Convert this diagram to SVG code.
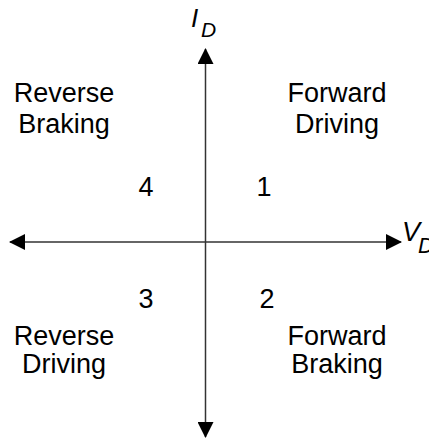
<svg xmlns="http://www.w3.org/2000/svg" width="429" height="441" viewBox="0 0 429 441">
<style>
.lbl{font-family:"Liberation Sans",Arial,sans-serif;font-size:27px;fill:#000;text-anchor:middle}
.ax{font-family:"Liberation Sans",Arial,sans-serif;font-style:italic;fill:#000}
.axis{stroke:#333;stroke-width:1.5;fill:none}
</style>
<defs>
<marker id="arr" viewBox="0 0 16 16" refX="15" refY="8" markerWidth="16" markerHeight="16" markerUnits="userSpaceOnUse" orient="auto">
<path d="M0,0 L16,8 L0,16 Z" fill="#000"/>
</marker>
</defs>
<rect width="429" height="441" fill="#fff"/>
<g id="connectors">
<line class="axis" x1="205.5" y1="242" x2="205.5" y2="49" marker-end="url(#arr)"/>
<line class="axis" x1="205.5" y1="242" x2="205.5" y2="437" marker-end="url(#arr)"/>
<line class="axis" x1="205.5" y1="242" x2="401" y2="242" marker-end="url(#arr)"/>
<line class="axis" x1="205.5" y1="242" x2="10" y2="242" marker-end="url(#arr)"/>
</g>
<g id="axis-id"><text class="ax" x="191" y="27" font-size="26">I<tspan x="201" y="37" font-size="21">D</tspan></text></g>
<g id="axis-vd"><text class="ax" x="402" y="241" font-size="27">V<tspan x="418" y="253" font-size="22">D</tspan></text></g>
<g id="q-reverse-braking"><text class="lbl" x="64" y="102">Reverse</text><text class="lbl" x="64" y="133">Braking</text></g>
<g id="q-forward-driving"><text class="lbl" x="337" y="102">Forward</text><text class="lbl" x="337" y="133">Driving</text></g>
<g id="q-reverse-driving"><text class="lbl" x="64" y="345">Reverse</text><text class="lbl" x="64" y="373">Driving</text></g>
<g id="q-forward-braking"><text class="lbl" x="337" y="345">Forward</text><text class="lbl" x="337" y="373">Braking</text></g>
<g id="n4"><text class="lbl" x="146" y="196">4</text></g>
<g id="n1"><text class="lbl" x="264" y="196">1</text></g>
<g id="n3"><text class="lbl" x="146" y="308">3</text></g>
<g id="n2"><text class="lbl" x="267" y="308">2</text></g>
</svg>
